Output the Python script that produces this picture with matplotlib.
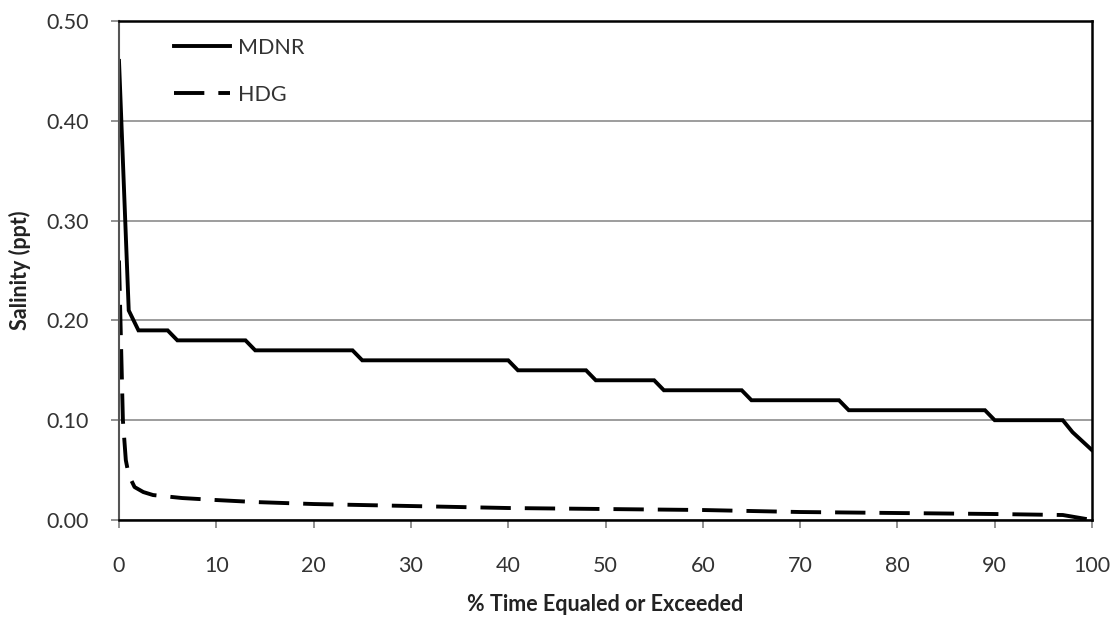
import matplotlib
matplotlib.use("Agg")
import matplotlib.pyplot as plt

# Data
mdnr_x = [0, 1, 2, 5, 6, 13, 14, 24, 25, 40, 41, 48, 49, 55, 56, 64, 65, 74, 75, 89, 90, 97, 98, 100]
mdnr_y = [0.46, 0.21, 0.19, 0.19, 0.18, 0.18, 0.17, 0.17, 0.16, 0.16, 0.15, 0.15, 0.14, 0.14,
          0.13, 0.13, 0.12, 0.12, 0.11, 0.11, 0.10, 0.10, 0.088, 0.07]
hdg_x = [0, 0.15, 0.4, 0.7, 1.0, 1.6, 2.5, 3.5, 6.5, 10, 14, 20, 30, 40, 50, 60, 70, 80, 90, 97, 100]
hdg_y = [0.26, 0.20, 0.10, 0.06, 0.045, 0.033, 0.028, 0.025, 0.022, 0.020, 0.018, 0.016, 0.014,
         0.012, 0.011, 0.010, 0.008, 0.007, 0.006, 0.005, 0.0]
x_ticks = [0, 10, 20, 30, 40, 50, 60, 70, 80, 90, 100]
y_ticks = [0.0, 0.1, 0.2, 0.3, 0.4, 0.5]
y_tick_labels = ["0.00", "0.10", "0.20", "0.30", "0.40", "0.50"]

plt.rcParams['font.family'] = ['Lato', 'DejaVu Sans']

fig = plt.figure(figsize=(11.18, 6.2), dpi=100)
ax = fig.add_axes([119/1118, 100/620, (1092-119)/1118, (520-21)/620])

ax.set_xlim(0, 100)
ax.set_ylim(0, 0.5)

ax.grid(axis='y', color='#8c8c8c', linewidth=1.2)
ax.set_axisbelow(True)

ax.plot(mdnr_x, mdnr_y, color='black', linewidth=2.8, label='MDNR', solid_joinstyle='miter')
ax.plot(hdg_x, hdg_y, color='black', linewidth=2.8, label='HDG',
        dashes=(7.8, 3.6), dash_capstyle='butt')

ax.set_xticks(x_ticks)
ax.set_xticklabels([str(v) for v in x_ticks])
ax.set_yticks(y_ticks)
ax.set_yticklabels(y_tick_labels)

ax.tick_params(axis='both', direction='out', length=6, width=1.2, color='#7f7f7f',
               labelsize=15.5, labelcolor='#333333')
ax.tick_params(axis='y', pad=16)
ax.tick_params(axis='x', pad=20)

for s in ['top', 'right', 'bottom']:
    ax.spines[s].set_color('black')
    ax.spines[s].set_linewidth(1.8)
ax.spines['left'].set_color('#555555')
ax.spines['left'].set_linewidth(1.5)

ax.set_xlabel('% Time Equaled or Exceeded', fontsize=15.5, fontweight='bold', color='#222222', labelpad=13)
ax.set_ylabel('Salinity (ppt)', fontsize=15.5, fontweight='bold', color='#222222', labelpad=11)

leg = ax.legend(loc='upper left', bbox_to_anchor=(0.057, 0.966), frameon=False,
                fontsize=15.5, handlelength=2.6, handletextpad=0.35, labelspacing=1.25,
                borderpad=0, borderaxespad=0)
for t in leg.get_texts():
    t.set_color('#333333')

fig.savefig('out.png', dpi=100)
